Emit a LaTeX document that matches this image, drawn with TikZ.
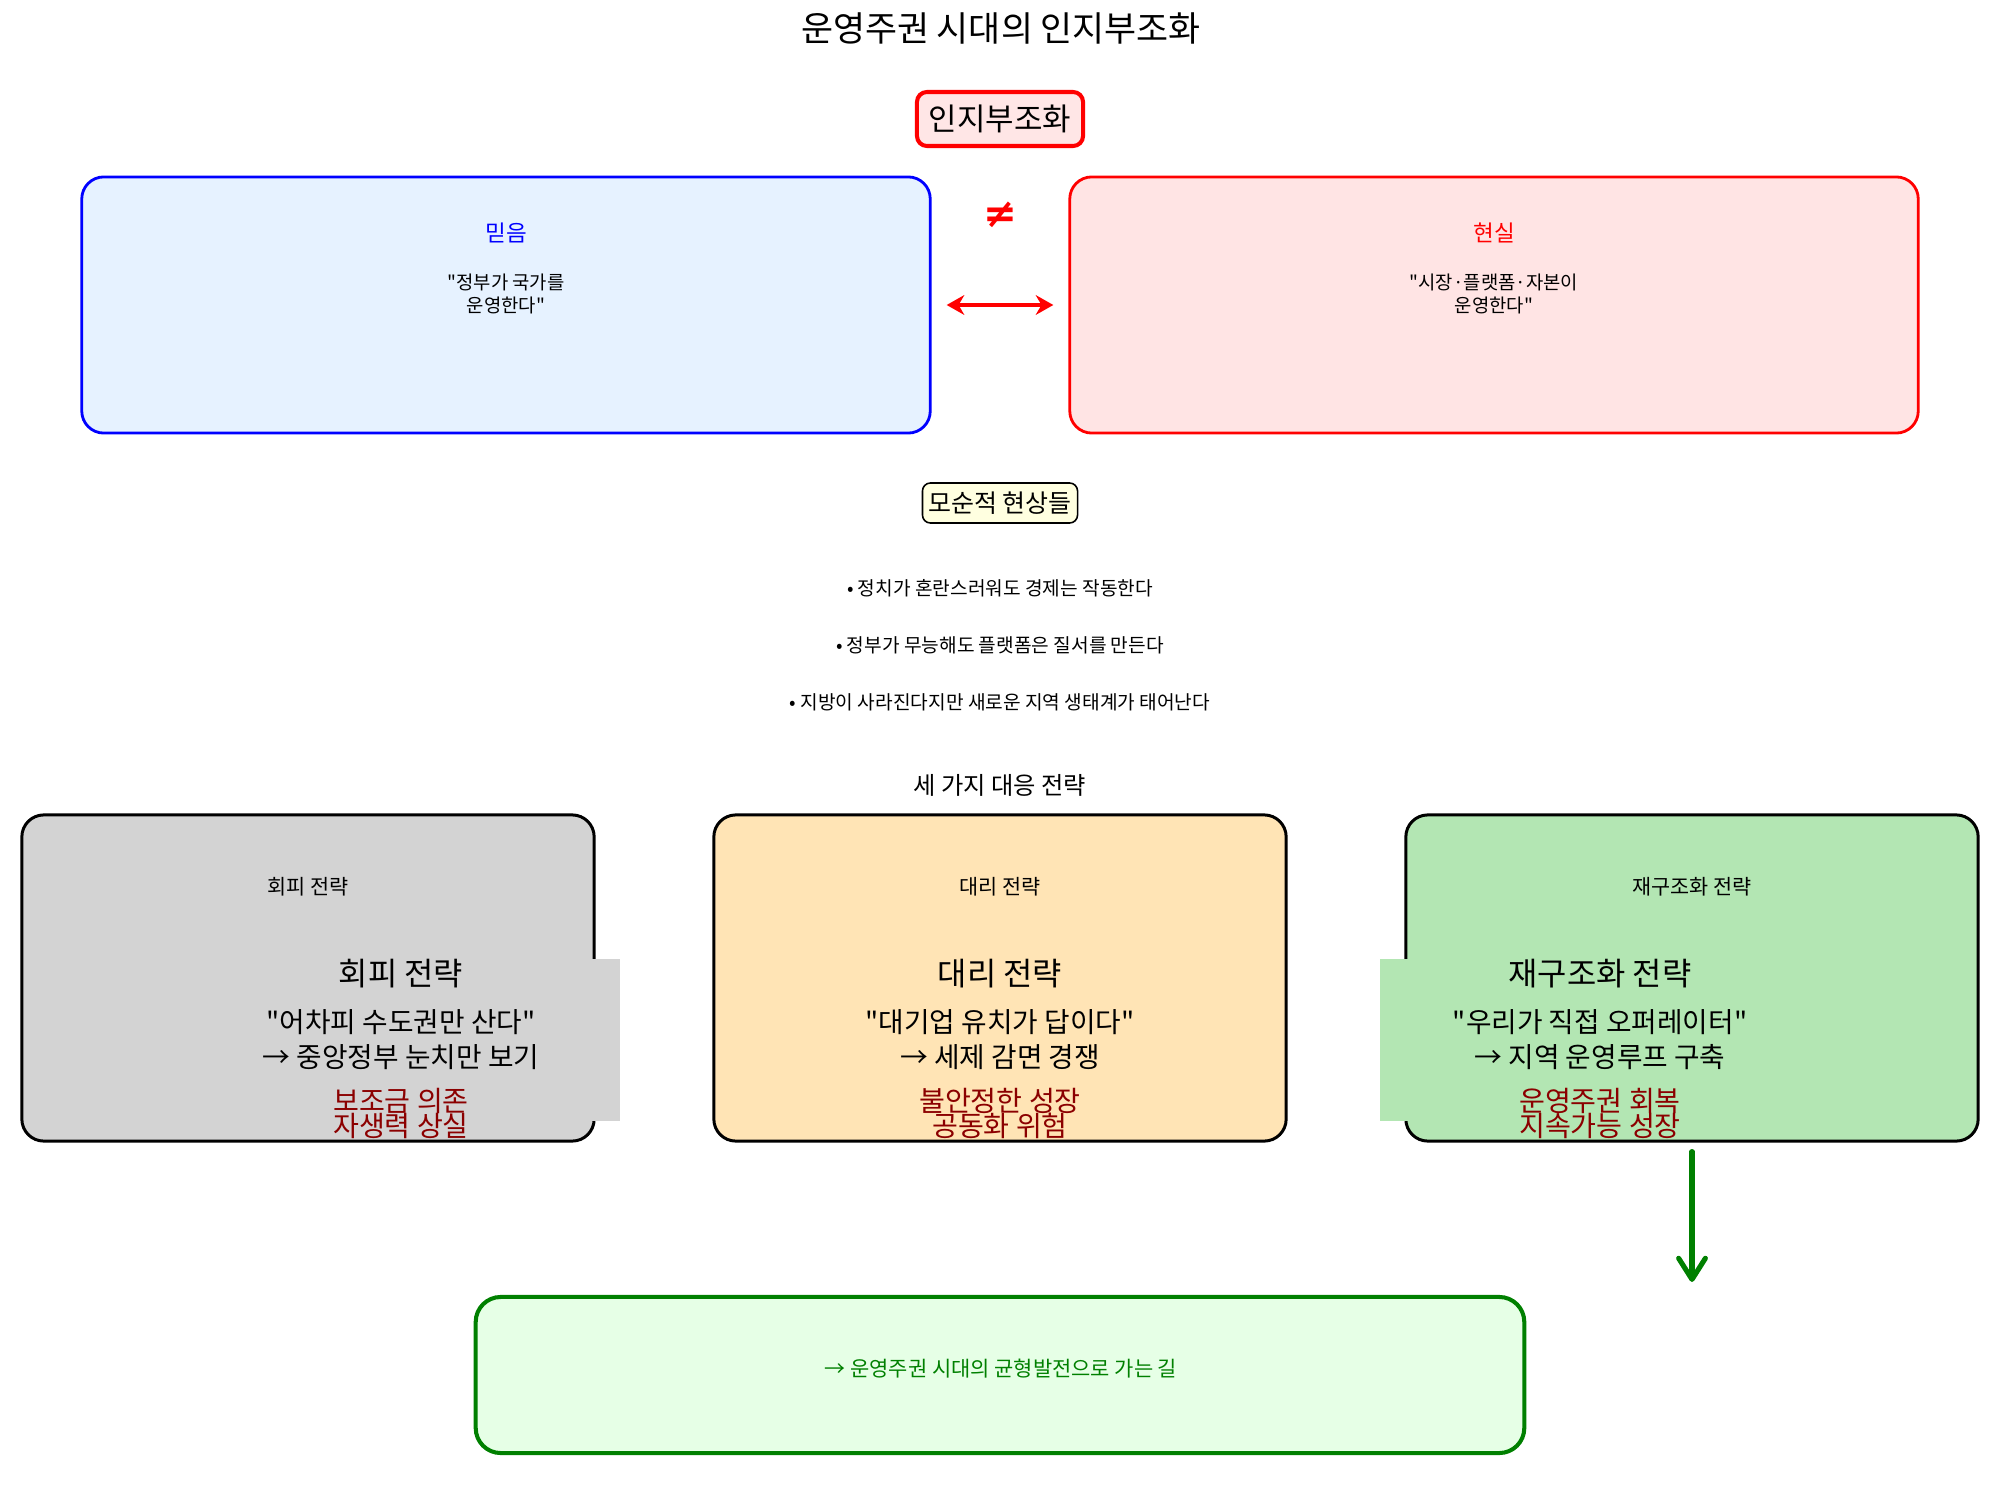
\documentclass[tikz,border=0pt]{standalone}
\usepackage{fontspec}
\defaultfontfeatures[\rmfamily]{}
\setmainfont{Noto Sans CJK KR}
\newfontfamily\dejavu{DejaVu Sans}
\usetikzlibrary{arrows.meta}
\definecolor{beliefbg}{HTML}{E6F2FF}
\definecolor{realbg}{HTML}{FFE4E4}
\definecolor{cogbg}{HTML}{FFE6E6}
\definecolor{contrabg}{HTML}{FFFFE0}
\definecolor{graybg}{HTML}{D3D3D3}
\definecolor{orangebg}{HTML}{FFE4B5}
\definecolor{greenbg}{HTML}{B3E6B3}
\definecolor{finalbg}{HTML}{E6FFE6}
\definecolor{darkgreen}{HTML}{008000}
\definecolor{darkred}{HTML}{8B0000}
\newcommand\myfs[2]{\fontsize{#1}{#2}\selectfont}
\tikzset{
  txt/.style={inner sep=0pt, align=center},
  bigbox/.style={rounded corners=0.22cm, line width=0.8pt, minimum width=8.48cm, minimum height=2.56cm, inner sep=0pt},
  stratbox/.style={rounded corners=0.22cm, draw=black, line width=0.85pt, minimum width=5.72cm, minimum height=3.26cm, inner sep=0pt},
  innerrect/.style={minimum width=4.4cm, minimum height=1.61cm, inner sep=0pt},
  cogbox/.style={rounded corners=0.1cm, draw=red, fill=cogbg, line width=1.15pt, minimum width=1.66cm, minimum height=0.54cm, inner sep=0pt, font=\myfs{8.8}{9}},
  contrabox/.style={rounded corners=0.08cm, draw=black, fill=contrabg, line width=0.45pt, minimum width=1.55cm, minimum height=0.4cm, inner sep=0pt, font=\myfs{7.1}{8}},
  finalbox/.style={rounded corners=0.25cm, draw=darkgreen, fill=finalbg, line width=1.15pt, minimum width=10.48cm, minimum height=1.56cm, inner sep=0pt},
  boxlabel/.style={txt, font=\myfs{6.4}{7}},
  boxquote/.style={txt, font=\myfs{5.35}{6.3}},
  bullet/.style={txt, font=\myfs{5.45}{6}},
  smalllabel/.style={txt, font=\myfs{5.9}{6}},
  strattitle/.style={txt, font=\myfs{9.05}{9.5}},
  stratline/.style={txt, font=\myfs{7.9}{8.5}},
  stratred/.style={txt, font=\myfs{8}{7.1}, text=darkred},
  dblarrow/.style={{Stealth[length=5pt,width=5.6pt]}-{Stealth[length=5pt,width=5.6pt]}, draw=red, line width=1.4pt, shorten <=0.15cm, shorten >=0.15cm},
  garrow/.style={-{Straight Barb[length=6pt,width=7.6pt,round]}, draw=darkgreen, line width=1.45pt, line cap=round, shorten <=0.09cm, shorten >=0.13cm}
}
\begin{document}
\begin{tikzpicture}[x=0.01cm,y=-0.01cm]
\useasboundingbox[fill=white] (0,0) rectangle (2000,1485);

% title
\node[txt, font=\myfs{9.9}{10}] (title) at (1001,28) {운영주권 시대의 인지부조화};

% cognitive dissonance label
\node[cogbox] (cog) at (1000,119) {인지부조화};

% belief and reality
\node[bigbox, draw=blue, fill=beliefbg] (belief) at (506,305) {};
\node[bigbox, draw=red, fill=realbg] (reality) at (1494,305) {};
\node[boxlabel, text=blue] (blabel) at (506,233) {믿음};
\node[boxquote] (bquote) at (506,294) {"정부가 국가를\\운영한다"};
\node[boxlabel, text=red] (rlabel) at (1494,233) {현실};
\node[boxquote] (rquote) at (1494,294) {"시장·플랫폼·자본이\\운영한다"};
\node[txt, text=red, font=\dejavu\bfseries\myfs{11.5}{12}] (neq) at (1000,215) {≠};
\draw[dblarrow] (belief.east) -- (reality.west);

% contradictions
\node[contrabox] (contra) at (1000,503) {모순적 현상들};
\node[bullet] (b1) at (1000,588) {• 정치가 혼란스러워도 경제는 작동한다};
\node[bullet] (b2) at (1000,645) {• 정부가 무능해도 플랫폼은 질서를 만든다};
\node[bullet] (b3) at (1000,702) {• 지방이 사라진다지만 새로운 지역 생태계가 태어난다};

% strategies
\node[txt, font=\myfs{6.9}{7}] (strhead) at (1000,785) {세 가지 대응 전략};

\node[stratbox, fill=graybg] (s1) at (308,978) {};
\node[stratbox, fill=orangebg] (s2) at (1000,978) {};
\node[stratbox, fill=greenbg] (s3) at (1692,978) {};

\node[smalllabel] (s1l) at (308,887) {회피 전략};
\node[smalllabel] (s2l) at (1000,887) {대리 전략};
\node[smalllabel] (s3l) at (1692,887) {재구조화 전략};

\node[innerrect, fill=graybg] (i1) at (400,1040) {};
\node[innerrect, fill=greenbg] (i3) at (1600,1040) {};

\node[strattitle] (t1) at (401,974) {회피 전략};
\node[stratline] (q1) at (401,1022) {"어차피 수도권만 산다"};
\node[stratline] (a1) at (401,1057) {→ 중앙정부 눈치만 보기};
\node[stratred] (r1a) at (401,1101) {보조금 의존};
\node[stratred] (r1b) at (401,1126) {자생력 상실};

\node[strattitle] (t2) at (1000,974) {대리 전략};
\node[stratline] (q2) at (1000,1022) {"대기업 유치가 답이다"};
\node[stratline] (a2) at (1000,1057) {→ 세제 감면 경쟁};
\node[stratred] (r2a) at (1000,1101) {불안정한 성장};
\node[stratred] (r2b) at (1000,1126) {공동화 위험};

\node[strattitle] (t3) at (1600,974) {재구조화 전략};
\node[stratline] (q3) at (1600,1022) {"우리가 직접 오퍼레이터"};
\node[stratline] (a3) at (1600,1057) {→ 지역 운영루프 구축};
\node[stratred] (r3a) at (1600,1101) {운영주권 회복};
\node[stratred] (r3b) at (1600,1126) {지속가능 성장};

% final
\node[finalbox] (final) at (1000,1375) {};
\node[txt, text=darkgreen, font=\myfs{5.95}{6}] (finaltxt) at (1001,1369) {→ 운영주권 시대의 균형발전으로 가는 길};
\draw[garrow] (s3.south) -- (s3.south |- final.north);
\end{tikzpicture}
\end{document}
